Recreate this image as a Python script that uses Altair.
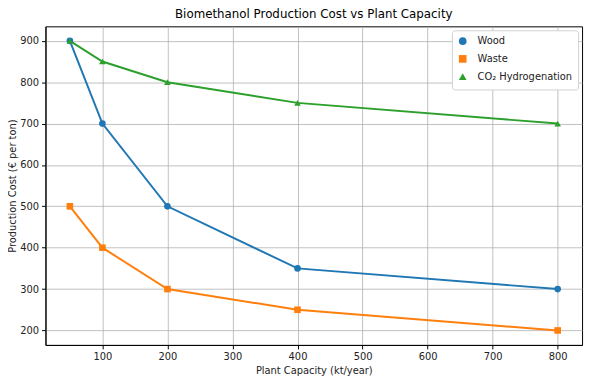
import altair as alt
import pandas as pd

capacity = [50, 100, 200, 400, 800]
wood = [900, 700, 500, 350, 300]
waste = [500, 400, 300, 250, 200]
co2 = [900, 850, 800, 750, 700]
series_names = ["Wood", "Waste", "CO₂ Hydrogenation"]
colors = ["#1f77b4", "#ff7f0e", "#2ca02c"]
marker_shapes = ["circle", "square", "triangle-up"]
x_ticks = [100, 200, 300, 400, 500, 600, 700, 800]
y_ticks = [200, 300, 400, 500, 600, 700, 800, 900]

rows = []
for name, vals in zip(series_names, [wood, waste, co2]):
    for c, v in zip(capacity, vals):
        rows.append({"capacity": c, "cost": v, "series": name})
df = pd.DataFrame(rows)

x = alt.X("capacity:Q", scale=alt.Scale(domain=[12.5, 837.5], nice=False, zero=False),
          axis=alt.Axis(values=x_ticks, title="Plant Capacity (kt/year)"))
y = alt.Y("cost:Q", scale=alt.Scale(domain=[165, 935], nice=False, zero=False),
          axis=alt.Axis(values=y_ticks, title="Production Cost (€ per ton)"))
color_scale = alt.Scale(domain=series_names, range=colors)
shape_scale = alt.Scale(domain=series_names, range=marker_shapes)

leg = alt.Legend(title=None, orient="top-right", offset=4,
                 symbolSize=60, symbolOpacity=1,
                 labelFontSize=10, labelFont="DejaVu Sans", labelColor="#222",
                 fillColor="white", strokeColor="#d0d0d0",
                 cornerRadius=3, padding=6, rowPadding=4, labelOffset=10)

line_layers = []
for name, col in zip(series_names, colors):
    line_layers.append(
        alt.Chart(df).transform_filter(alt.datum.series == name)
        .mark_line(strokeWidth=2, color=col)
        .encode(x=x, y=y)
    )

points = alt.Chart(df).mark_point(filled=True, size=45, opacity=1).encode(
    x=x, y=y,
    color=alt.Color("series:N", scale=color_scale, sort=series_names, legend=leg),
    shape=alt.Shape("series:N", scale=shape_scale, sort=series_names, legend=leg),
)

chart = alt.layer(*line_layers, points).properties(
    width=544, height=323,
    title=alt.Title("Biomethanol Production Cost vs Plant Capacity", fontSize=12,
                    font="DejaVu Sans", fontWeight="normal", color="black", offset=5),
    autosize=alt.AutoSizeParams(type="none"),
    padding={"left": 38, "top": 16, "right": 5, "bottom": 36},
).configure_view(stroke="black", strokeWidth=1).configure_axis(
    grid=True, gridColor="#b0b0b0", gridWidth=0.8,
    domainColor="black", tickColor="black", tickSize=4,
    labelFont="DejaVu Sans", labelFontSize=10, labelColor="#222",
    titleFont="DejaVu Sans", titleFontSize=10, titleFontWeight="normal", titleColor="#222",
    labelPadding=3,
).configure_axisY(titlePadding=2)

chart.save("out.html", embed_options={"renderer": "svg", "actions": False})
